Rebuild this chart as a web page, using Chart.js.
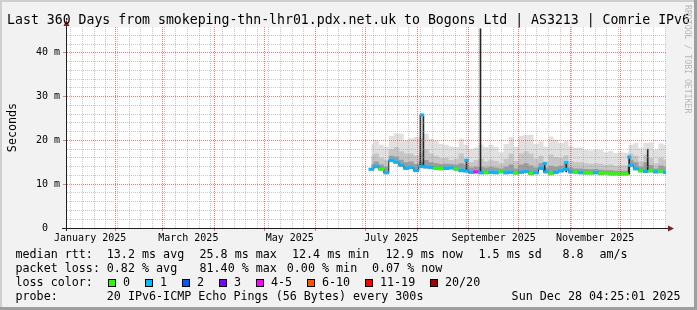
<!DOCTYPE html>
<html>
<head>
<meta charset="utf-8">
<script src="https://cdn.jsdelivr.net/npm/chart.js@4.4.1/dist/chart.umd.min.js"></script>
<style>
  html, body { margin: 0; padding: 0; background: #f2f2f2; }
  canvas { display: block; }
</style>
</head>
<body>
<canvas id="smoke" width="697" height="310"></canvas>
<script>
// ============================================================
// SmokePing "Last 360 Days" graph, redrawn with Chart.js
// x values are days since 1 Jan 2025 (day 0 = Jan 1)
// ============================================================

const monthStarts = [0, 31, 59, 90, 120, 151, 181, 212, 243, 273, 304, 334];
const labelDays   = [15.5, 74.5, 135.5, 196.5, 258, 319];
const monthLabels = ['January 2025', 'March 2025', 'May 2025', 'July 2025', 'September 2025', 'November 2025'];

const yMajor       = [0, 10, 20, 30, 40];
const yMajorLabels = ['0  ', '10 m', '20 m', '30 m', '40 m'];

// 3-day buckets, Jul 3 .. Dec 28 (values in ms)
const median = [
  13.4, 14.0, 13.4, 12.6, 15.4, 15.0, 14.3, 13.6, 13.8, 13.1,
  14.0, 13.9, 13.8, 13.6, 13.5, 13.6, 13.7, 13.4, 13.1, 13.0,
  12.7, 12.8, 12.6, 12.6, 12.7, 12.6, 12.8, 12.6, 12.7, 12.5,
  12.7, 12.9, 12.4, 12.6, 13.6, 12.8, 12.4, 12.7, 13.0, 13.4,
  12.8, 12.7, 12.6, 12.5, 12.5, 12.6, 12.4, 12.5, 12.3, 12.3,
  12.3, 12.3, 14.3, 13.5, 13.0, 12.9, 13.0, 12.8, 12.9, 12.7
];
const lossPings = [
  1, 1, 0, 1, 1, 1, 1, 1, 1, 1,
  1, 1, 1, 0, 0, 1, 1, 0, 1, 1,
  1, 4, 1, 0, 1, 1, 0, 1, 1, 0,
  1, 1, 0, 1, 1, 1, 0, 1, 1, 1,
  1, 0, 1, 0, 0, 1, 0, 0, 0, 0,
  0, 0, 1, 1, 0, 1, 0, 1, 0, 1
];
const smokeMax = [
  19.2, 20.0, 19.0, 18.5, 21.0, 21.6, 21.5, 20.0, 20.5, 20.8,
  20.5, 21.5, 20.4, 20.0, 19.2, 19.0, 18.6, 18.5, 20.4, 19.0,
  18.1, 18.4, 19.0, 18.5, 19.0, 18.5, 17.3, 19.2, 20.8, 18.5,
  21.0, 21.3, 21.3, 19.2, 19.8, 18.6, 20.9, 20.2, 19.4, 19.8,
  18.6, 18.3, 18.4, 17.8, 17.7, 18.0, 17.8, 17.3, 17.6, 17.1,
  17.3, 17.2, 19.0, 19.4, 18.2, 19.4, 19.5, 17.9, 19.3, 19.0
];
const smokeHigh = [
  16.5, 17.0, 16.0, 15.5, 18.0, 18.5, 17.5, 17.0, 17.0, 16.5,
  17.0, 18.0, 17.0, 16.5, 16.0, 16.0, 15.5, 15.8, 17.0, 16.0,
  15.0, 15.5, 15.8, 15.2, 15.6, 15.3, 14.8, 15.8, 17.0, 15.3,
  17.0, 17.5, 17.0, 15.8, 16.5, 15.2, 16.8, 16.2, 16.0, 16.6,
  15.3, 15.0, 15.0, 14.8, 14.7, 14.8, 14.7, 14.4, 14.5, 14.2,
  14.3, 14.3, 17.0, 16.5, 15.2, 16.8, 16.0, 14.8, 16.0, 15.5
];
const smokeMid = [
  14.6, 15.2, 14.5, 14.0, 16.5, 16.3, 15.6, 15.0, 15.2, 14.6,
  15.2, 15.5, 15.0, 14.8, 14.6, 14.7, 14.6, 14.5, 14.8, 14.5,
  13.8, 14.0, 14.0, 13.8, 14.0, 13.8, 13.6, 14.0, 14.5, 13.6,
  14.5, 14.8, 14.3, 13.8, 14.8, 13.8, 14.2, 14.0, 14.2, 14.8,
  13.8, 13.6, 13.6, 13.5, 13.4, 13.5, 13.3, 13.2, 13.2, 13.1,
  13.1, 13.1, 15.6, 15.0, 14.0, 15.0, 14.4, 13.6, 14.3, 14.0
];

// short-lived spikes (narrower than a bucket)
const peakDays = [214.0, 215.8, 241.7, 250.1, 288.7, 301.6, 339.5, 350.6];
const peakLow  = [13.9, 13.9, 12.8, 12.6, 12.8, 12.8, 12.3, 12.9];
const peakHigh = [25.8, 25.8, 15.4, 45.5, 14.7, 14.9, 16.2, 18.0];
const capDays  = [214.9, 241.7, 288.7, 301.6, 339.5];
const capValue = [25.8, 15.4, 14.7, 14.9, 16.2];
const capLoss  = [1, 1, 1, 1, 1];

const bucketDays = median.map((_, i) => 184.5 + 3 * i); // bucket centres

const lossColors = ['#26ff00', '#00b8ff', '#0059ff', '#7e00ff', '#ff00ff', '#ff5500', '#ff0000', '#a10000'];
const lossLabels = ['0', '1', '2', '3', '4-5', '6-10', '11-19', '20/20'];
const lossUpper  = [0, 1, 2, 3, 5, 10, 19, 20]; // lost pings out of 20

const X_MIN = 1.6, X_MAX = 361.6;
const MONO = '"DejaVu Sans Mono", monospace';
const MAJOR_GRID = 'rgba(230,60,60,0.7)';
const MINOR_GRID = 'rgba(143,143,143,0.5)';

function lossColor(n) {
  const k = lossUpper.findIndex(u => n <= u);
  return lossColors[k];
}

const pts = arr => bucketDays.map((d, i) => ({ x: d, y: arr[i] }));

function smokeLayer(arr, color, order) {
  return {
    type: 'line', data: pts(arr), stepped: 'middle', fill: 3,
    backgroundColor: color, borderWidth: 0, pointRadius: 0, order
  };
}

const isMajorX = c => !!c.tick && monthStarts.includes(c.tick.value);
const isMajorY = c => !!c.tick && yMajor.includes(c.tick.value);

// ── chrome: background, 3d border, axes, arrows, texts ───────
const rrdChrome = {
  id: 'rrdChrome',
  beforeDraw(chart) {
    const { ctx, chartArea: a, width, height } = chart;
    ctx.save();
    ctx.fillStyle = '#f2f2f2';
    ctx.fillRect(0, 0, width, height);
    ctx.fillStyle = '#cfcfcf';
    ctx.fillRect(0, 0, width, 2);
    ctx.fillRect(0, 0, 2, height);
    ctx.fillStyle = '#9e9e9e';
    ctx.fillRect(0, height - 3, width, 3);
    ctx.fillRect(width - 3, 0, 3, height);
    ctx.fillStyle = '#ffffff';
    ctx.fillRect(a.left, a.top, a.right - a.left, a.bottom - a.top);
    ctx.restore();
  },
  afterDraw(chart) {
    const { ctx, chartArea: a, width } = chart;
    ctx.save();

    // axes
    ctx.strokeStyle = '#1f1f1f';
    ctx.lineWidth = 1;
    ctx.beginPath();
    ctx.moveTo(a.left - 0.5, a.bottom + 3);
    ctx.lineTo(a.left - 0.5, a.top - 4);
    ctx.moveTo(a.left - 5, a.bottom + 0.5);
    ctx.lineTo(a.right + 3, a.bottom + 0.5);
    ctx.stroke();

    // arrows
    ctx.fillStyle = '#801f1f';
    ctx.beginPath();
    ctx.moveTo(a.left - 0.5, a.top - 7);
    ctx.lineTo(a.left - 3.5, a.top - 1);
    ctx.lineTo(a.left + 2.5, a.top - 1);
    ctx.closePath();
    ctx.fill();
    ctx.beginPath();
    ctx.moveTo(a.right + 8, a.bottom + 0.5);
    ctx.lineTo(a.right + 2, a.bottom - 2.5);
    ctx.lineTo(a.right + 2, a.bottom + 3.5);
    ctx.closePath();
    ctx.fill();

    // title
    ctx.fillStyle = '#000';
    ctx.textBaseline = 'alphabetic';
    ctx.textAlign = 'center';
    ctx.font = `13.2px ${MONO}`;
    ctx.fillText('Last 360 Days from smokeping-thn-lhr01.pdx.net.uk to Bogons Ltd | AS3213 | Comrie IPv6', width / 2, 24);

    // vertical axis title
    ctx.font = `11.7px ${MONO}`;
    ctx.save();
    ctx.translate(15.5, (a.top + a.bottom) / 2);
    ctx.rotate(-Math.PI / 2);
    ctx.fillText('Seconds', 0, 0);
    ctx.restore();

    // watermark
    ctx.save();
    ctx.fillStyle = '#b8b8b8';
    ctx.font = `8.2px ${MONO}`;
    ctx.textAlign = 'left';
    ctx.translate(685, 5);
    ctx.rotate(Math.PI / 2);
    ctx.fillText('RRDTOOL / TOBI OETIKER', 0, 0);
    ctx.restore();

    // legend rows
    ctx.textAlign = 'left';
    ctx.font = `11.7px ${MONO}`;
    const rows = [
      [258.3, [[15.5, 'median rtt:'], [106.8, '13.2 ms avg'], [199.5, '25.8 ms max'], [292, '12.4 ms min'],
               [385.5, '12.9 ms now'], [478.5, '1.5 ms sd'], [562.5, '8.8'], [599.5, 'am/s']]],
      [272.3, [[15.5, 'packet loss:'], [106.8, '0.82 % avg'], [199.5, '81.40 % max'], [286.8, '0.00 % min'],
               [372, '0.07 % now']]],
      [286.3, [[15.5, 'loss color:']]],
      [300.2, [[15.5, 'probe:'], [106.8, '20 IPv6-ICMP Echo Pings (56 Bytes) every 300s']]]
    ];
    rows.forEach(([y, items]) => items.forEach(([x, t]) => ctx.fillText(t, x, y)));

    const boxX = [108.5, 145.5, 182.5, 219.5, 256.5, 307.5, 365.5, 430.5];
    lossLabels.forEach((lbl, i) => {
      ctx.fillStyle = lossColors[i];
      ctx.fillRect(boxX[i], 279.5, 7, 7);
      ctx.strokeStyle = '#000';
      ctx.strokeRect(boxX[i], 279.5, 7, 7);
      ctx.fillStyle = '#000';
      ctx.fillText(lbl, boxX[i] + 14.5, 286.3);
    });

    ctx.textAlign = 'right';
    ctx.fillText('Sun Dec 28 04:25:01 2025', 680.5, 300.2);
    ctx.restore();
  }
};

new Chart(document.getElementById('smoke').getContext('2d'), {
  type: 'bar',
  data: {
    datasets: [
      smokeLayer(smokeMax, '#e0e0e0', 7),
      smokeLayer(smokeHigh, '#c6c6c6', 6),
      smokeLayer(smokeMid, '#9c9c9c', 5),
      {
        type: 'line', data: pts(median), stepped: 'middle', fill: false,
        borderColor: '#1f1f1f', borderWidth: 1, pointRadius: 0, order: 4
      },
      {
        type: 'bar', grouped: false, barThickness: 1, order: 3,
        data: peakDays.map((d, i) => ({ x: d, y: [peakLow[i], peakHigh[i]] })),
        backgroundColor: '#262626'
      },
      {
        type: 'bar', grouped: false, barThickness: 5, order: 2,
        data: bucketDays.map((d, i) => ({ x: d, y: [median[i] - 0.28, median[i] + 0.28] })),
        backgroundColor: lossPings.map(lossColor)
      },
      {
        type: 'bar', grouped: false, barThickness: 3.5, order: 1,
        data: capDays.map((d, i) => ({ x: d, y: [capValue[i] - 0.28, capValue[i] + 0.28] })),
        backgroundColor: capLoss.map(lossColor)
      }
    ]
  },
  options: {
    responsive: false,
    animation: false,
    events: [],
    devicePixelRatio: 1,
    layout: { padding: { left: 0, top: 27, right: 31, bottom: 62 } },
    plugins: { legend: { display: false }, tooltip: { enabled: false } },
    scales: {
      x: {
        type: 'linear', position: 'bottom', min: X_MIN, max: X_MAX, offset: false, weight: 0,
        afterBuildTicks: axis => {
          const ticks = monthStarts.filter(d => d >= X_MIN).map(d => ({ value: d }));
          for (let d = 4; d <= X_MAX; d += 7) {          // Sundays
            if (d >= X_MIN && !monthStarts.includes(d)) ticks.push({ value: d });
          }
          axis.ticks = ticks.sort((p, q) => p.value - q.value);
        },
        afterFit: s => { s.height = 0; },
        ticks: { display: false, autoSkip: false },
        grid: {
          offset: false, z: 1, lineWidth: 1, drawTicks: true, tickLength: 3,
          color: c => (isMajorX(c) ? MAJOR_GRID : MINOR_GRID),
          tickColor: c => (isMajorX(c) ? MAJOR_GRID : 'transparent')
        },
        border: { display: false, dash: [1, 1] }
      },
      xl: {
        type: 'linear', axis: 'x', position: 'bottom', min: X_MIN, max: X_MAX, offset: false, weight: 1,
        afterBuildTicks: axis => { axis.ticks = labelDays.map(d => ({ value: d })); },
        afterFit: s => { s.height = 20; },
        ticks: {
          autoSkip: false, maxRotation: 0, padding: 4, color: '#000',
          font: { family: MONO, size: 10 },
          callback: (v, i) => monthLabels[i]
        },
        grid: { display: false, drawTicks: false, offset: false },
        border: { display: false }
      },
      y: {
        type: 'linear', min: 0, max: 45.9,
        afterBuildTicks: axis => {
          const ticks = [];
          for (let v = 0; v <= 44; v += 2) ticks.push({ value: v });
          axis.ticks = ticks;
        },
        afterFit: s => { s.width = 67; },
        ticks: {
          autoSkip: false, padding: 3, color: '#000', font: { family: MONO, size: 10 },
          callback: v => { const k = yMajor.indexOf(v); return k < 0 ? '' : yMajorLabels[k]; }
        },
        grid: {
          z: 1, lineWidth: 1, drawTicks: true, tickLength: 4,
          color: c => (isMajorY(c) ? MAJOR_GRID : MINOR_GRID),
          tickColor: c => (isMajorY(c) ? MAJOR_GRID : 'transparent')
        },
        border: { display: false, dash: [1, 1] }
      }
    }
  },
  plugins: [rrdChrome]
});
</script>
</body>
</html>
